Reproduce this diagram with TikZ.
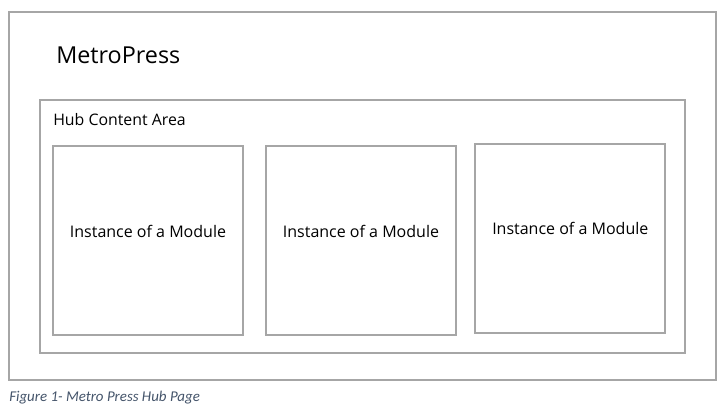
\documentclass[tikz,border=0pt]{standalone}
\usepackage{fontspec}
\setmainfont{Open Sans}
\newfontfamily\capfont{Carlito}
\usetikzlibrary{positioning}
\begin{document}
\begin{tikzpicture}[x=0.75pt,y=-0.75pt,line join=miter]
        \definecolor{frame_gray}{HTML}{A6A6A6}
        \definecolor{caption_blue}{HTML}{44546A}
        \tikzset{khung/.style={draw=frame_gray,line width=1.5pt},
                o_module/.style={khung,anchor=north west,minimum width=190*0.75pt,minimum height=189*0.75pt,inner sep=0pt},
                chu/.style={inner sep=0pt,font=\fontsize{12}{14}\selectfont}}
        \useasboundingbox (0,0) rectangle (725,418);
        \path
        (9,12) coordinate (A)
        (716,380) coordinate (B)
        (40,100) coordinate (C)
        (685,353) coordinate (D)
        ;
        \draw[khung] (A) rectangle (B);
        \draw[khung] (C) rectangle (D);
        \node[chu,anchor=base west,font=\fontsize{17.5}{20}\selectfont] (ten) at (56,63) {MetroPress};
        \node[chu,anchor=base west,font=\fontsize{11.9}{14}\selectfont] (hub) at (53,125) {Hub Content Area};
        \node[o_module] (m1) at (52,145) {};
        \node[o_module] (m2) at (265,145) {};
        \node[o_module] (m3) at (474.3,143.3) {};
        \node[chu,above=9*0.75pt of m1.center,anchor=center] (t1) {Instance of a Module};
        \node[chu,above=9*0.75pt of m2.center,anchor=center] (t2) {Instance of a Module};
        \node[chu,above=10*0.75pt of m3.center,anchor=center] (t3) {Instance of a Module};
        \node[inner sep=0pt,anchor=base west,text=caption_blue,font=\capfont\itshape\fontsize{11.2}{13}\selectfont] (cap) at (9,401) {Figure 1- Metro Press Hub Page};
\end{tikzpicture}
\end{document}
